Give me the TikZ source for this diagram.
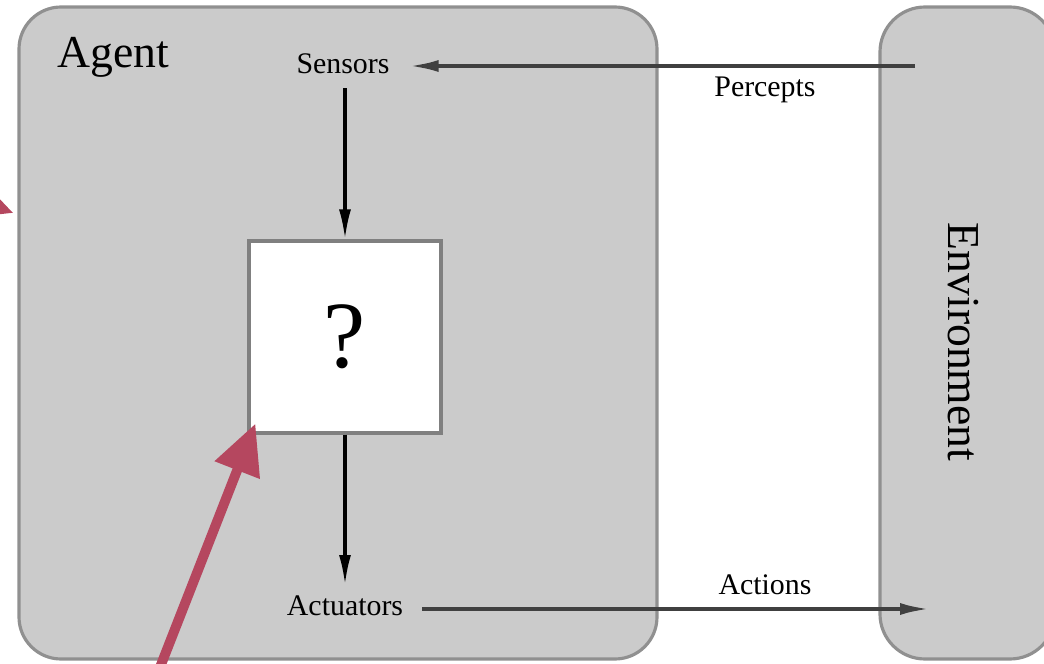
\documentclass[tikz,border=0pt]{standalone}
\usepackage{fontspec}
\setmainfont{Liberation Serif}
\usetikzlibrary{arrows.meta, positioning, calc}
\definecolor{boxgray}{RGB}{203, 203, 203}
\definecolor{edgegray}{RGB}{144, 144, 144}
\definecolor{hintred}{RGB}{181, 71, 95}

\tikzset{
  roundbox/.style={draw=edgegray, fill=boxgray, line width=0.9pt, rounded corners=0.42cm},
  progbox/.style={draw=black!50, fill=white, line width=0.9pt, minimum size=1.92cm, inner sep=0pt},
  lbl/.style={font=\fontsize{8.5}{10}\selectfont, inner sep=1pt},
  biglbl/.style={font=\fontsize{13}{15}\selectfont},
  flow/.style={line width=0.9pt, -{Latex[length=3mm, width=1.2mm]}},
  hint/.style={hintred, line width=2.8pt, -{Triangle[length=5mm, width=4.6mm]}},
}

\begin{document}
\begin{tikzpicture}

  \useasboundingbox (0,0) rectangle (10.44,6.63);
  \clip (0,0) rectangle (10.44,6.63);

  % --- agent and environment ---
  \node[roundbox, minimum width=6.38cm, minimum height=6.52cm] (agent) at (3.38,3.30) {};
  \node[roundbox, minimum width=1.75cm, minimum height=6.52cm,
    rounded corners=0.45cm] (env) at (9.675,3.30) {};
  \node[biglbl] (agentlbl) at (1.13,6.06) {Agent};
  \node[biglbl, rotate=-90] (envlbl) at (9.63,3.21) {Environment};

  % --- inside the agent ---
  \node[lbl] (sens) at (3.43,5.99) {Sensors};
  \node[progbox] (prog) at (3.45,3.26) {\fontsize{27}{27}\selectfont ?};
  \node[lbl] (actu) at (3.45,0.57) {Actuators};

  \draw[flow] (prog.north |- 0,5.75) -- (prog.north);
  \draw[flow] (prog.south) -- (prog.south |- 0,0.78);

  % --- percepts and actions ---
  \coordinate (percsrc) at (9.15,5.97);
  \coordinate (actdst) at (9.30,0.54);
  \node[lbl] (perclbl) at (7.65,5.73) {Percepts};
  \node[lbl] (actlbl) at (7.65,0.78) {Actions};
  \draw[flow, black!75, line width=1.1pt] (percsrc) -- ([xshift=0.15cm]sens.east |- percsrc);
  \draw[flow, black!75, line width=1.1pt] ([xshift=0.15cm]actu.east |- actdst) -- (actdst);

  % --- red hint arrows ---
  \coordinate (hintA) at (1.57,-0.12);
  \coordinate (hintB) at (-1.26,5.01);
  \draw[hint] (hintA) -- ([shift={(0.08,0.11)}]prog.south west);
  \draw[hint] (hintB) -- ([xshift=-0.04cm]agent.west |- 0,4.50);

\end{tikzpicture}
\end{document}
